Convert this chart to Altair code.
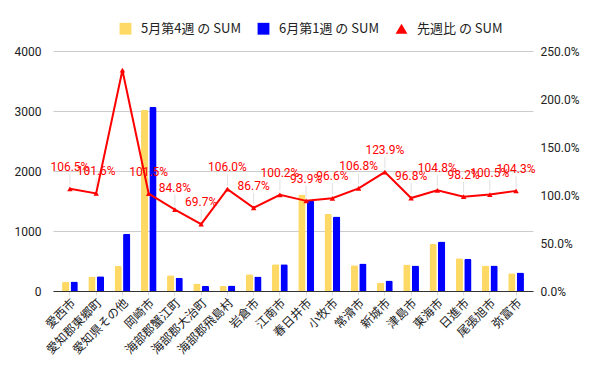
import altair as alt
import pandas as pd

cities = ["愛西市", "愛知郡東郷町", "愛知県その他", "岡崎市", "海部郡蟹江町", "海部郡大治町",
          "海部郡飛島村", "岩倉市", "江南市", "春日井市", "小牧市", "常滑市", "新城市",
          "津島市", "東海市", "日進市", "尾張旭市", "弥富市"]
may_w4 = [150, 240, 415, 3020, 262, 125, 85, 280, 445, 1610, 1285, 430, 142, 440, 785, 545, 425, 295]
jun_w1 = [160, 244, 955, 3065, 222, 87, 90, 243, 446, 1512, 1241, 459, 176, 426, 823, 535, 427, 308]
ratio = [1.065, 1.016, 2.300, 1.015, 0.848, 0.697, 1.060, 0.867, 1.002, 0.939, 0.966,
         1.068, 1.239, 0.968, 1.048, 0.982, 1.005, 1.043]

S1, S2, S3 = "5月第4週 の SUM", "6月第1週 の SUM", "先週比 の SUM"
series_names = [S1, S2, S3]
series_colors = ["#FFD966", "#0000FF", "#FF0000"]
series_shapes = ["square", "square", "triangle-up"]

bars_df = pd.DataFrame(
    [{"city": c, "series": S1, "value": v} for c, v in zip(cities, may_w4)]
    + [{"city": c, "series": S2, "value": v} for c, v in zip(cities, jun_w1)]
)
line_df = pd.DataFrame({"city": cities, "ratio": ratio, "series": [S3] * len(cities)})

JP = "Noto Sans CJK JP"
color_scale = alt.Scale(domain=series_names, range=series_colors)
shape_scale = alt.Scale(domain=series_names, range=series_shapes)
legend = alt.Legend(title=None, orient="none", direction="horizontal", legendX=66, legendY=-29,
                    labelFont=JP, labelFontSize=13, labelColor="#222", symbolSize=140,
                    columnPadding=16, symbolStrokeWidth=0, labelOffset=9)

x_enc = alt.X("city:N", sort=cities, title=None,
              scale=alt.Scale(paddingInner=0.4, paddingOuter=0.345),
              axis=alt.Axis(labelAngle=-45, labelFont=JP, labelFontSize=12, labelColor="#222",
                            domainColor="#333", tickColor="#ddd", tickSize=4, labelPadding=2))

bars = alt.Chart(bars_df).mark_bar(cornerRadiusTopLeft=1.5, cornerRadiusTopRight=1.5).encode(
    x=x_enc,
    xOffset=alt.XOffset("series:N", sort=[S1, S2], scale=alt.Scale(paddingInner=0.15)),
    y=alt.Y("value:Q", title=None, scale=alt.Scale(domain=[0, 4000]),
            axis=alt.Axis(values=[0, 1000, 2000, 3000, 4000], format="d", labelFont="Roboto",
                          labelFontSize=12, labelColor="#222", ticks=False, domain=False,
                          gridColor="#ccc", labelPadding=12)),
    color=alt.Color("series:N", scale=color_scale, legend=legend),
)

y2_enc = alt.Y("ratio:Q", title=None, scale=alt.Scale(domain=[0, 2.5]),
               axis=alt.Axis(orient="right", values=[0, 0.5, 1.0, 1.5, 2.0, 2.5], format=".1%",
                             labelFont="Roboto", labelFontSize=12, labelColor="#222",
                             ticks=False, domain=False, grid=False, labelPadding=7))

base = alt.Chart(line_df).encode(x=alt.X("city:N", sort=cities), y=y2_enc)

leaders = base.mark_rule(color="#e0e0e0", strokeWidth=1, yOffset=-4, y2Offset=-15).encode(
    y2=alt.Y2("ratio:Q")).transform_filter("datum.ratio < 2")
line = base.mark_line(color="#FF0000", strokeWidth=2).encode(
    color=alt.Color("series:N", scale=color_scale, legend=legend))
points = base.mark_point(filled=True, size=30, opacity=1).encode(
    color=alt.Color("series:N", scale=color_scale, legend=legend),
    shape=alt.Shape("series:N", scale=shape_scale, legend=legend))
labels = base.mark_text(color="#FF0000", dy=-22, fontSize=12, font="Roboto").encode(
    text=alt.Text("ratio:Q", format=".1%")).transform_filter("datum.ratio < 2")

right = alt.layer(leaders, line, points, labels)

chart = alt.layer(bars, right).resolve_scale(y="independent").properties(
    width=480, height=240,
    autosize=alt.AutoSizeParams(type="none"),
    padding={"left": 45, "top": 43, "right": 59, "bottom": 72},
).configure_view(stroke=None).configure_axis(gridColor="#ccc")

chart.save("out.html", embed_options={"renderer": "svg", "actions": False})
